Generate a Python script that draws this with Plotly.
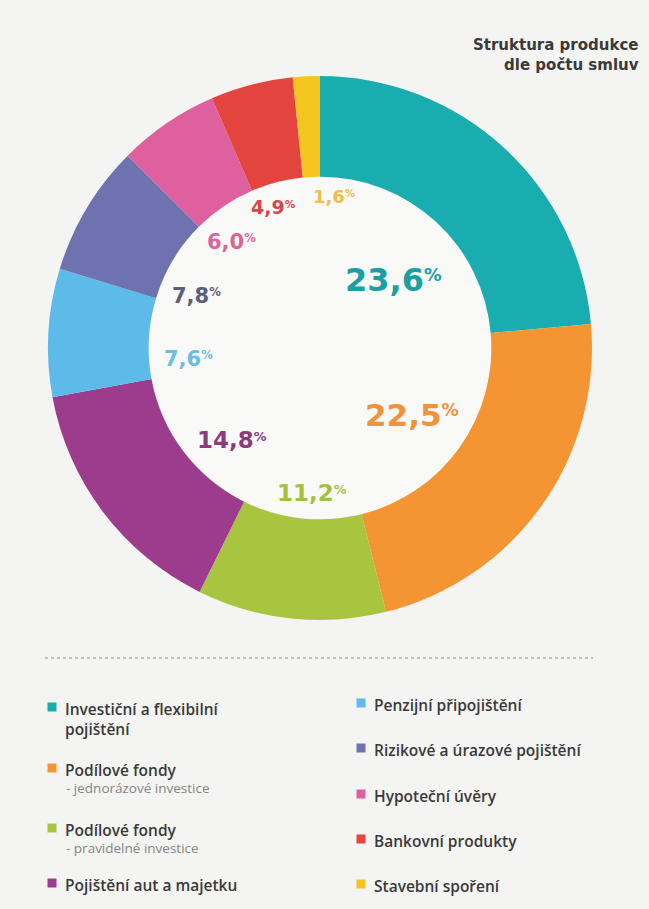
import math
import plotly.graph_objects as go

W, H = 649, 909

# ---- data -------------------------------------------------------------
categories = [
    "Investiční a flexibilní pojištění",
    "Podílové fondy - jednorázové investice",
    "Podílové fondy - pravidelné investice",
    "Pojištění aut a majetku",
    "Penzijní připojištění",
    "Rizikové a úrazové pojištění",
    "Hypoteční úvěry",
    "Bankovní produkty",
    "Stavební spoření",
]
shares = [23.6, 22.5, 11.2, 14.8, 7.6, 7.8, 6.0, 4.9, 1.6]

legend_main = [
    "Investiční a flexibilní<br>pojištění",
    "Podílové fondy",
    "Podílové fondy",
    "Pojištění aut a majetku",
    "Penzijní připojištění",
    "Rizikové a úrazové pojištění",
    "Hypoteční úvěry",
    "Bankovní produkty",
    "Stavební spoření",
]
legend_sub = [None, "- jednorázové investice", "- pravidelné investice",
              None, None, None, None, None, None]

title_text = "Struktura produkce<br>dle počtu smluv"

# ---- style ------------------------------------------------------------
slice_colors = ["#1aadb0", "#f59432", "#a9c53f", "#9d3b8d", "#5dbbea",
                "#6e72ae", "#df609e", "#e4463f", "#f7c51f"]
text_colors = ["#1b9fa0", "#f2923a", "#a3c140", "#8c3c7c", "#6bbde6",
               "#5b6079", "#d9669a", "#d6464a", "#eec04a"]
label_sizes = [32, 31, 23, 23, 21, 21, 21, 19, 18]
label_radius = [100, 114, 145, 127, 132, 134, 138, 149, 152]   # px from centre
label_nudge = [4.5, 0.6, -2.9, -9.2, -7.9, -8.0, -5.5, -3.8, 8.2]  # degrees

bg = "#f4f4f3"
cx, cy, R = 320, 348, 272
hole = 0.63

fig = go.Figure()

fig.add_trace(go.Pie(
    labels=categories,
    values=shares,
    sort=False,
    direction="clockwise",
    rotation=0,
    hole=hole,
    marker=dict(colors=slice_colors, line=dict(width=0)),
    textinfo="none",
    hoverinfo="label+percent",
    showlegend=False,
    domain=dict(x=[(cx - R) / W, (cx + R) / W],
                y=[1 - (cy + R) / H, 1 - (cy - R) / H]),
))

shapes = []
annotations = []

# slightly lighter disc inside the ring
hr = R * hole
shapes.append(dict(type="circle", xref="x", yref="y", layer="below",
                   x0=cx - hr, x1=cx + hr, y0=cy - hr, y1=cy + hr,
                   fillcolor="#f9f9f8", line=dict(width=0)))

# percentage labels placed at each slice's mid-angle inside the hole
start = 0.0
for i, v in enumerate(shares):
    mid = (start + v / 2) / sum(shares) * 360 + label_nudge[i]
    start += v
    a = math.radians(mid)
    x = cx + label_radius[i] * math.sin(a)
    y = cy - label_radius[i] * math.cos(a)
    s = label_sizes[i]
    pct = (f"<span style='font-size:{0.55 * s:.1f}px;"
           f"baseline-shift:{0.32 * s:.1f}px'>%</span>")
    txt = f"{v:.1f}".replace(".", ",") + pct
    annotations.append(dict(
        x=x, y=y, xref="x", yref="y", text=txt, showarrow=False,
        xanchor="center", yanchor="middle",
        font=dict(family="DejaVu Sans", size=s,
                  color=text_colors[i], weight="bold"),
    ))

# title, top right
annotations.append(dict(
    x=641, y=55, xref="x", yref="y", text=title_text, showarrow=False,
    xanchor="right", yanchor="middle", align="right",
    font=dict(family="DejaVu Sans", size=15, color="#3a3a3a", weight="bold"),
))

# dotted separator
shapes.append(dict(type="line", xref="x", yref="y", x0=45, x1=593, y0=658, y1=658,
                   line=dict(color="#8a8a8a", width=1.2, dash="dot")))

# two-column legend
col_x = [52, 361]
row_y = [707, 768, 828, 883, 703, 748, 794, 839, 884]
for i, name in enumerate(legend_main):
    col = 0 if i < 4 else 1
    sx = col_x[col]
    y = row_y[i]
    shapes.append(dict(type="rect", xref="x", yref="y",
                       x0=sx - 4.5, x1=sx + 4.5, y0=y - 4.5, y1=y + 4.5,
                       fillcolor=slice_colors[i], line=dict(width=0)))
    annotations.append(dict(
        x=sx + 11, y=y - 11, xref="x", yref="y", text=name, showarrow=False,
        xanchor="left", yanchor="top", align="left",
        font=dict(family="Open Sans", size=15.5, color="#3a3a3a", weight=600),
    ))
    if legend_sub[i]:
        annotations.append(dict(
            x=sx + 12, y=y + 20, xref="x", yref="y", text=legend_sub[i],
            showarrow=False, xanchor="left", yanchor="middle",
            font=dict(family="Open Sans", size=13.5, color="#858585"),
        ))

fig.update_layout(
    width=W, height=H,
    margin=dict(l=0, r=0, t=0, b=0),
    paper_bgcolor=bg, plot_bgcolor=bg,
    xaxis=dict(range=[0, W], visible=False, fixedrange=True),
    yaxis=dict(range=[H, 0], visible=False, fixedrange=True),
    shapes=shapes,
    annotations=annotations,
)

fig.write_html("out.html")
